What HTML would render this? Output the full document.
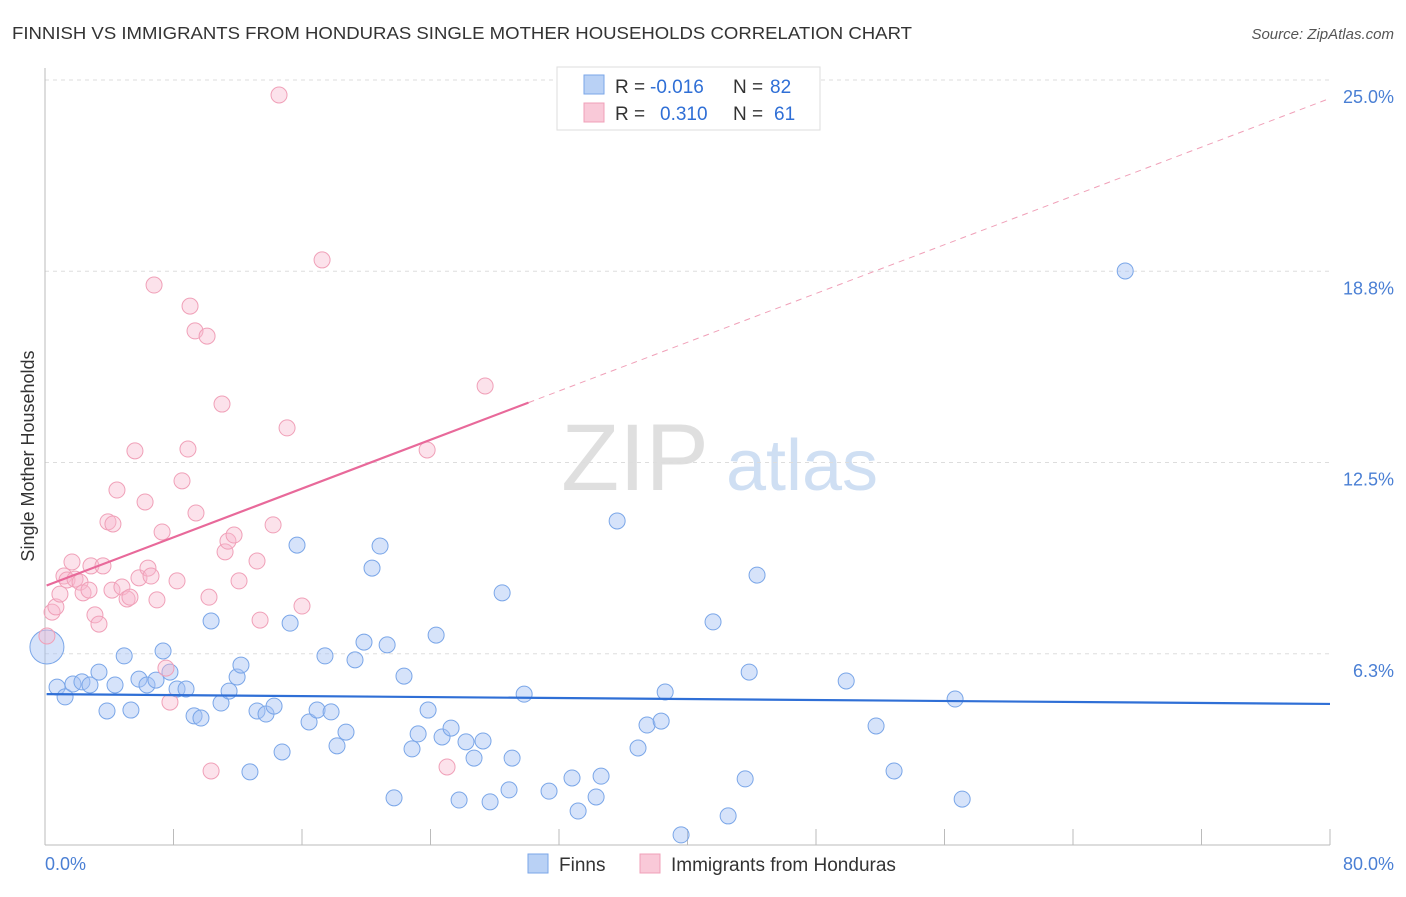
<!DOCTYPE html>
<html><head><meta charset="utf-8">
<style>
body{margin:0;background:#fff;font-family:"Liberation Sans",sans-serif;}
svg text{font-family:"Liberation Sans",sans-serif;}
</style></head>
<body>
<svg id="chart" width="1406" height="892" xmlns="http://www.w3.org/2000/svg">
<text x="12" y="39" font-size="17.5" fill="#333" textLength="900" lengthAdjust="spacingAndGlyphs">FINNISH VS IMMIGRANTS FROM HONDURAS SINGLE MOTHER HOUSEHOLDS CORRELATION CHART</text>
<text x="1394" y="39" font-size="15" fill="#555" text-anchor="end" font-style="italic">Source: ZipAtlas.com</text>
<g>
<text x="635" y="490" font-size="95" fill="#d8d8d8" font-family="Liberation Serif" text-anchor="middle" opacity="0.8">ZIP</text>
<text x="802" y="490" font-size="72" fill="#bcd2ef" text-anchor="middle" opacity="0.7">atlas</text>
</g>
<g id="grid"></g>
<g id="axes"></g>
<g id="marks"></g>
<text transform="translate(34,456) rotate(-90)" font-size="18" fill="#333" text-anchor="middle">Single Mother Households</text>
<text x="45" y="870" font-size="18" fill="#4a7fd4">0.0%</text>
<text x="1394" y="870" font-size="18" fill="#4a7fd4" text-anchor="end">80.0%</text>
<g>
<rect x="557" y="67" width="263" height="63" fill="#fff" stroke="#ddd"/>
<rect x="584" y="75" width="20" height="19" fill="#b9d1f5" stroke="#7aa6e8"/>
<rect x="584" y="103" width="20" height="19" fill="#f9c9d8" stroke="#f0a0b8"/>
<text x="615" y="93" font-size="19" fill="#333">R =</text>
<text x="650" y="93" font-size="19" fill="#2f6fd6">-0.016</text>
<text x="733" y="93" font-size="19" fill="#333">N =</text>
<text x="770" y="93" font-size="19" fill="#2f6fd6">82</text>
<text x="615" y="120" font-size="19" fill="#333">R =</text>
<text x="660" y="120" font-size="19" fill="#2f6fd6">0.310</text>
<text x="733" y="120" font-size="19" fill="#333">N =</text>
<text x="774" y="120" font-size="19" fill="#2f6fd6">61</text>
</g>
<g>
<rect x="528" y="854" width="20" height="19" fill="#b9d1f5" stroke="#7aa6e8"/>
<text x="559" y="871" font-size="19" fill="#333">Finns</text>
<rect x="640" y="854" width="20" height="19" fill="#f9c9d8" stroke="#f0a0b8"/>
<text x="671" y="871" font-size="19" fill="#333">Immigrants from Honduras</text>
</g>
</svg>
<script>
const yTicks=[6.25,12.5,18.75,25];
const yTickLabels=["6.3%","12.5%","18.8%","25.0%"];
const xTicks=[0,8,16,24,32,40,48,56,64,72,80];
const blueX=[0.12,0.75,1.25,1.74,2.30,2.80,3.36,3.86,4.36,4.93,5.35,5.85,6.35,6.91,7.35,7.78,8.22,8.78,9.28,9.71,10.34,10.96,11.46,11.96,12.20,12.76,13.20,13.76,14.26,14.76,15.26,15.69,16.44,16.94,17.43,17.81,18.18,18.74,19.30,19.86,20.36,20.86,21.30,21.73,22.35,22.85,23.23,23.85,24.35,24.72,25.28,25.78,26.21,26.71,27.27,27.71,28.46,28.89,29.08,29.83,31.38,32.81,33.19,34.31,34.62,35.62,36.92,37.48,38.36,38.61,39.60,41.59,42.53,43.59,43.84,44.33,49.88,51.74,52.86,56.66,57.10,67.25];
const blueY=[6.47,5.16,4.84,5.26,5.33,5.23,5.65,4.38,5.23,6.18,4.41,5.42,5.23,5.39,6.34,5.65,5.10,5.10,4.22,4.15,7.32,4.64,5.03,5.49,5.88,2.39,4.38,4.28,4.54,3.04,7.25,9.80,4.02,4.41,6.18,4.35,3.24,3.69,6.05,6.63,9.05,9.77,6.54,1.54,5.52,3.14,3.63,4.41,6.86,3.53,3.82,1.47,3.37,2.84,3.40,1.41,8.24,1.80,2.84,4.93,1.76,2.19,1.11,1.57,2.25,10.59,3.17,3.92,4.05,5.00,0.33,7.29,0.95,2.16,5.65,8.82,5.36,3.89,2.42,4.77,1.50,18.76];
const pinkX=[0.12,0.44,0.68,0.93,1.18,1.37,1.68,1.87,2.18,2.37,2.74,2.86,3.11,3.36,3.61,3.92,4.17,4.23,4.48,4.79,5.11,5.29,5.60,5.85,6.23,6.41,6.60,6.79,6.97,7.29,7.53,7.78,8.22,8.53,8.90,9.03,9.40,9.34,10.09,10.21,10.34,11.02,11.21,11.39,11.77,12.08,13.20,13.39,14.20,14.57,15.07,16.00,17.25,23.79,25.03,27.40];
const pinkY=[6.83,7.61,7.78,8.20,8.79,8.66,9.25,8.69,8.59,8.24,8.33,9.12,7.52,7.22,9.12,10.56,8.33,10.49,11.60,8.43,8.04,8.10,12.88,8.73,11.21,9.05,8.79,18.30,8.01,10.23,5.78,4.67,8.63,11.90,12.94,17.61,10.85,16.80,16.63,8.10,2.42,14.41,9.58,9.93,10.13,8.63,9.28,7.35,10.46,24.51,13.63,7.81,19.12,12.91,2.55,15.00];
const blueTrend=[4.93,4.61];
const pinkTrend=[8.46,24.4];
const pinkSolidEnd=30.1;

const NS="http://www.w3.org/2000/svg";
const X=v=>45+v*(1285/80);
const Y=v=>845-v*30.6;
function mk(tag,attrs,parent){const e=document.createElementNS(NS,tag);for(const k in attrs)e.setAttribute(k,attrs[k]);parent.appendChild(e);return e;}
const grid=document.getElementById('grid'),axes=document.getElementById('axes'),marks=document.getElementById('marks');
yTicks.forEach((t,i)=>{
 const l=mk('line',{x1:45,x2:1330,y1:Y(t),y2:Y(t),stroke:'#ddd','stroke-dasharray':'4,4'},grid);
 
 
 const tx=mk('text',{x:1394,y:Y(t)+23,'font-size':18,fill:'#4a7fd4','text-anchor':'end'},grid);
 tx.textContent=yTickLabels[i];
 
 
});
const ax=mk('line',{x1:45,x2:1330,y1:845,y2:845,stroke:'#bbb'},axes);


const ay=mk('line',{x1:45,x2:45,y1:68,y2:845,stroke:'#bbb'},axes);


xTicks.forEach(t=>{
 const l=mk('line',{x1:X(t),x2:X(t),y1:829,y2:845,stroke:'#bbb'},axes);
 
 
});
blueX.forEach((x,i)=>{
 const c=mk('circle',{cx:X(x),cy:Y(blueY[i]),r:i===0?17:8,fill:'rgba(164,194,244,0.45)',stroke:'#7aa6e8','stroke-width':1},marks);
 
 
});
pinkX.forEach((x,i)=>{
 const c=mk('circle',{cx:X(x),cy:Y(pinkY[i]),r:8,fill:'rgba(248,182,204,0.4)',stroke:'#f0a0b8','stroke-width':1},marks);
 
 
});
const py=x=>pinkTrend[0]+(pinkTrend[1]-pinkTrend[0])*x/80;
const bl=mk('line',{x1:X(0.1),y1:Y(blueTrend[0]),x2:X(80),y2:Y(blueTrend[1]),stroke:'#2f6fd6','stroke-width':2.2},marks);


const pd=mk('line',{x1:X(pinkSolidEnd),y1:Y(py(pinkSolidEnd)),x2:X(80),y2:Y(py(80)),stroke:'#f0a0b8','stroke-width':1,'stroke-dasharray':'6,5'},marks);


const ps=mk('line',{x1:X(0.1),y1:Y(py(0.1)),x2:X(pinkSolidEnd),y2:Y(py(pinkSolidEnd)),stroke:'#e8699a','stroke-width':2.2},marks);


</script>
</body></html>
